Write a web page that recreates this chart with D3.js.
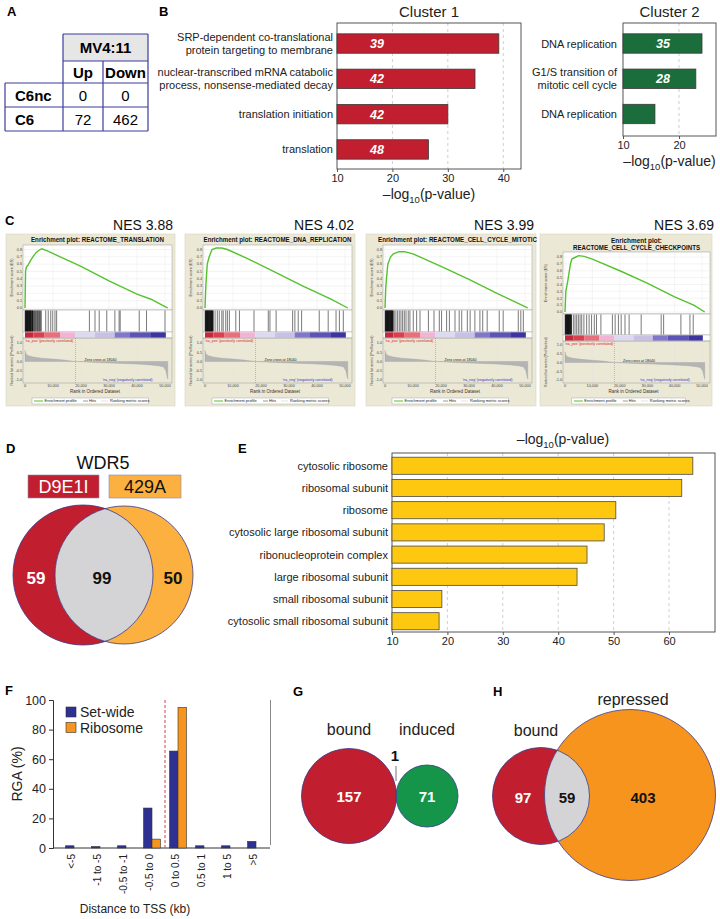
<!DOCTYPE html>
<html><head><meta charset="utf-8">
<script src="https://cdn.jsdelivr.net/npm/d3@7"></script>
<style>body{margin:0;background:#fff}text{font-family:"Liberation Sans",Arial,Helvetica,sans-serif}</style>
</head><body><svg id="c" width="720" height="919"></svg>
<script>
// ---------- DATA ----------
const tableHeader = "MV4:11";
const tableCols = ["Up", "Down"];
const tableRows = ["C6nc", "C6"];
const tableValues = [[0, 0], [72, 462]];

const cluster1Terms = [["SRP-dependent co-translational", "protein targeting to membrane"], ["nuclear-transcribed mRNA catabolic", "process, nonsense-mediated decay"], ["translation initiation"], ["translation"]];
const cluster1Values = [39.2, 34.9, 30.0, 26.5];
const cluster1Counts = [39, 42, 42, 48];
const cluster1Ticks = [10, 20, 30, 40];
const cluster2Terms = [["DNA replication"], ["G1/S transition of", "mitotic cell cycle"], ["DNA replication"]];
const cluster2Values = [24.1, 23.0, 15.7];
const cluster2Counts = [35, 28, 14];
const cluster2Ticks = [10, 20];

const gseaTitles = [["Enrichment plot: REACTOME_TRANSLATION"], ["Enrichment plot: REACTOME_DNA_REPLICATION"], ["Enrichment plot: REACTOME_CELL_CYCLE_MITOTIC"], ["Enrichment plot:", "REACTOME_CELL_CYCLE_CHECKPOINTS"]];
const gseaNES = ["NES 3.88", "NES 4.02", "NES 3.99", "NES 3.69"];
// running enrichment score: [rank (thousands), ES]
const esTranslation = [[0,0],[0.2,0.5],[0.5,0.56],[1,0.58],[2,0.65],[3,0.71],[4,0.76],[5,0.79],[6,0.81],[8,0.78],[12,0.71],[20,0.57],[30,0.37],[40,0.19],[45,0.12],[48,0.06],[50,0.02],[51,0]];
const esDnaReplication = [[0,0],[0.3,0.3],[0.8,0.6],[1.5,0.7],[2.5,0.8],[4,0.82],[6,0.82],[8,0.8],[15,0.68],[25,0.49],[35,0.3],[45,0.12],[51,0]];
const esCellCycleMitotic = [[0,0],[0.3,0.3],[1,0.6],[2,0.7],[3,0.74],[5,0.77],[7,0.77],[10,0.74],[20,0.57],[30,0.39],[40,0.2],[50,0.02],[51,0]];
const esCheckpoints = [[0,0],[0.3,0.3],[1,0.45],[2,0.7],[2.5,0.77],[4,0.8],[5,0.82],[7,0.81],[10,0.77],[20,0.6],[30,0.42],[40,0.22],[47,0.1],[51,0]];
// hit positions (rank, thousands)
const hitsTranslation = [0.1,0.3,0.5,0.7,0.9,1.1,1.3,1.6,1.8,2.0,2.2,2.5,2.7,3.0,3.2,3.4,3.7,3.9,4.2,4.4,4.6,4.9,5.1,5.3,5.6,5.8,7.4,8.3,9.2,9.9,10.7,11.3,23,25,26.5,29.2,32.1,33.6,34,40.8,43.4,50];
const hitsDnaReplication = [0.1,0.3,0.5,0.7,0.9,1.1,1.3,1.5,1.7,1.9,2.1,2.3,2.5,2.7,3.0,3.6,4.4,5.1,6.0,6.5,7.4,8.0,8.7,11,12.3,17.5,22.6,23.2,25.4,31.3,32.1,33.3,34.5,40.8,44,46.8,48,49.4];
const hitsCellCycleMitotic = [0.1,0.3,0.5,0.7,0.9,1.1,1.3,1.5,1.7,1.9,2.1,2.3,2.5,2.7,3.0,3.3,3.9,4.5,5.1,5.7,6.3,6.9,7.5,8.3,8.9,10.1,11.3,12.5,15.5,17.5,19.4,20.2,22,23,25,26.5,27.4,29.4,30.4,32.1,33.9,34.9,36.5,40.8,42.2,47.6,48.5,49.4];
const hitsCheckpoints = [0.1,0.3,0.5,0.7,0.9,1.1,1.3,1.5,1.7,1.9,2.1,2.3,3.04,3.65,4.26,4.87,5.5,6.1,6.9,7.9,8.8,9.7,10.7,11.5,13.1,17.3,18.3,19.5,20.5,21.9,23.4,27.8,35.1,36,42.3,45.6,46.8];
// ranked list metric: [rank (thousands), value]
const metricCurve = [[0,0.6],[0.2,0.45],[1,0.32],[3,0.24],[6,0.18],[10,0.13],[14,0.08],[18,0.0],[25,-0.05],[32,-0.09],[40,-0.14],[45,-0.19],[48,-0.24],[49.5,-0.3],[50.3,-0.5],[50.8,-0.85],[51,-0.95]];
const colorBarBreaks = [0, 3, 7, 12.5, 17.9, 25, 32, 37.5, 45, 50.3];
const colorBarColors = ["#c4283c", "#d8404f", "#e8707c", "#f2b4d4", "#dcd9f0", "#c9c0e6", "#7f78c8", "#5c54b4", "#3c34a0"];
const zeroCross = 18040;

const vennD = {left: "D9E1I", right: "429A", title: "WDR5", only1: 59, both: 99, only2: 50};

const eTerms = ["cytosolic ribosome", "ribosomal subunit", "ribosome", "cytosolic large ribosomal subunit", "ribonucleoprotein complex", "large ribosomal subunit", "small ribosomal subunit", "cytosolic small ribosomal subunit"];
const eValues = [64.3, 62.3, 50.4, 48.3, 45.2, 43.4, 19.0, 18.5];
const eTicks = [10, 20, 30, 40, 50, 60];

const fCategories = ["<-5", "-1 to -5", "-0.5 to -1", "-0.5 to 0", "0 to 0.5", "0.5 to 1", "1 to 5", ">5"];
const fSeries = ["Set-wide", "Ribosome"];
const fSetWide = [1.5, 1.0, 1.5, 27, 65.5, 1.5, 1.5, 4.5];
const fRibosome = [0, 0, 0, 6, 95, 0, 0, 0];
const fTicks = [0, 20, 40, 60, 80, 100];

const vennG = {a: "bound", b: "induced", onlyA: 157, both: 1, onlyB: 71};
const vennH = {a: "bound", b: "repressed", onlyA: 97, both: 59, onlyB: 403};

// ---------- DRAW ----------
const svg = d3.select("#c");
const RED = "#c11f2f", GREEN2 = "#1b6e3b", GOLD = "#fdc80f", BLUE = "#2e3192", ORANGE = "#f7941d", LORANGE = "#fbb040", LENS = "#d4d4d6", OUT = "#3a3a8c";

function txt(x, y, t, size, opts = {}) {
  const e = svg.append("text").attr("x", x).attr("y", y).attr("font-size", size).text(t);
  if (opts.anchor) e.attr("text-anchor", opts.anchor);
  if (opts.weight) e.attr("font-weight", opts.weight);
  if (opts.fill) e.attr("fill", opts.fill);
  if (opts.style) e.attr("font-style", opts.style);
  return e;
}
// panel letters
[["A",7,16],["B",159,16],["C",5,225],["D",6,453],["E",238,453],["F",5,695],["G",293,696],["H",493,696]].forEach(d => txt(d[1], d[2], d[0], 13, {weight: "bold"}));

// ---- A: table ----
(function () {
  const colX = [5, 63, 103, 148];
  const rowY = [34, 61, 83, 107, 131];
  const g = svg.append("g");
  g.append("rect").attr("x", colX[1]).attr("y", rowY[0]).attr("width", colX[3] - colX[1]).attr("height", rowY[1] - rowY[0]).attr("fill", "#e6e6e6");
  const line = (x1, y1, x2, y2) => g.append("line").attr("x1", x1).attr("y1", y1).attr("x2", x2).attr("y2", y2).attr("stroke", "#3d3d9c").attr("stroke-width", 1.2);
  line(colX[1], rowY[0], colX[3], rowY[0]);
  line(colX[1], rowY[1], colX[3], rowY[1]);
  line(colX[0], rowY[2], colX[3], rowY[2]);
  line(colX[0], rowY[3], colX[3], rowY[3]);
  line(colX[0], rowY[4], colX[3], rowY[4]);
  line(colX[0], rowY[2], colX[0], rowY[4]);
  line(colX[1], rowY[0], colX[1], rowY[4]);
  line(colX[2], rowY[1], colX[2], rowY[4]);
  line(colX[3], rowY[0], colX[3], rowY[4]);
  txt((colX[1] + colX[3]) / 2, (rowY[0] + rowY[1]) / 2 + 5.5, tableHeader, 15, {anchor: "middle", weight: "bold"});
  tableCols.forEach((c, i) => txt((colX[i + 1] + colX[i + 2]) / 2, (rowY[1] + rowY[2]) / 2 + 5.5, c, 15, {anchor: "middle", weight: "bold"}));
  tableRows.forEach((r, j) => {
    const cy = (rowY[j + 2] + rowY[j + 3]) / 2 + 5.5;
    txt(15, cy, r, 15, {weight: "bold"});
    tableValues[j].forEach((v, i) => txt((colX[i + 1] + colX[i + 2]) / 2, cy, v, 15, {anchor: "middle"}));
  });
})();

// ---- B: bar charts ----
function clusterChart(title, terms, values, counts, ticks, x0, x1, xmax, yRange, color, labelX) {
  const g = svg.append("g");
  const x = d3.scaleLinear().domain([10, xmax]).range([x0, x1]);
  const y = d3.scaleBand().domain(d3.range(terms.length)).range(yRange).paddingInner(0.45).paddingOuter(0.25);
  const top = 23, bottom = yRange[1] + (terms.length === 4 ? 1 : 3.5);
  ticks.slice(1).forEach(t => g.append("line").attr("x1", x(t)).attr("x2", x(t)).attr("y1", top).attr("y2", bottom).attr("stroke", "#cfcfcf").attr("stroke-dasharray", "3,3"));
  g.append("rect").attr("x", x0).attr("y", top).attr("width", x1 - x0).attr("height", bottom - top).attr("fill", "none").attr("stroke", "#555").attr("stroke-width", 1);
  g.selectAll(".bar").data(values).enter().append("rect")
    .attr("x", x(10)).attr("y", (d, i) => y(i)).attr("width", d => x(d) - x(10)).attr("height", y.bandwidth())
    .attr("fill", color).attr("stroke", "#3a3a3a").attr("stroke-width", 0.8);
  counts.forEach((c, i) => txt(x(10) + 40, y(i) + y.bandwidth() / 2 + 4.5, c, 12.5, {anchor: "middle", weight: "bold", style: "italic", fill: "#fff"}));
  terms.forEach((lines, i) => {
    const cy = y(i) + y.bandwidth() / 2;
    lines.forEach((l, k) => txt(labelX, cy + (k - (lines.length - 1) / 2) * 13 + 4, l, 11, {anchor: "end", fill: "#222"}));
  });
  const ax = g.append("g").attr("transform", `translate(0,${bottom})`).call(d3.axisBottom(x).tickValues(ticks).tickSize(3).tickPadding(2));
  ax.select(".domain").remove();
  ax.selectAll("line").attr("stroke", "#555");
  ax.selectAll("text").attr("font-size", 11).attr("fill", "#222").attr("font-family", null);
  const cx = (x0 + x1) / 2;
  txt(cx, 17, title, 15, {anchor: "middle", fill: "#222"});
  const t = txt(cx, bottom + 30, "", 14, {anchor: "middle", fill: "#222"});
  t.append("tspan").text("\u2013log");
  t.append("tspan").text("10").attr("font-size", 9.5).attr("dy", 4);
  t.append("tspan").text("(p-value)").attr("dy", -4);
}
clusterChart("Cluster 1", cluster1Terms, cluster1Values, cluster1Counts, cluster1Ticks, 337, 521, 43.2, [25, 168], RED, 333);
clusterChart("Cluster 2", cluster2Terms, cluster2Values, cluster2Counts, cluster2Ticks, 623, 716, 26.6, [25, 132.5], GREEN2, 617);

// ---- C: GSEA plots ----
const gseaCfg = [
  {fx: 6, fw: 169, x0: 25, x1: 165, pl: 23, pr: 172, tY: [242], tW: [133], esTop: 245, esBot: 310, es0: 308, es08: 249.5, hTop: 310, hBot: 332, cTop: 332, cBot: 338, mTop: 338, mBot: 383, m1: 343, mn1: 380, nesX: 173},
  {fx: 185, fw: 170, x0: 205, x1: 345, pl: 203, pr: 352, tY: [242], tW: [148], esTop: 245, esBot: 310, es0: 308, es08: 249.5, hTop: 310, hBot: 332, cTop: 332, cBot: 338, mTop: 338, mBot: 383, m1: 343, mn1: 380, nesX: 354},
  {fx: 366, fw: 170, x0: 385, x1: 525, pl: 383, pr: 532, tY: [242], tW: [159], esTop: 245, esBot: 310, es0: 308, es08: 249.5, hTop: 310, hBot: 332, cTop: 332, cBot: 338, mTop: 338, mBot: 383, m1: 343, mn1: 380, nesX: 534},
  {fx: 540, fw: 172, x0: 565, x1: 702, pl: 563, pr: 710, tY: [242.5, 250], tW: [51, 127], esTop: 252, esBot: 314, es0: 312, es08: 257, hTop: 314, hBot: 335, cTop: 335, cBot: 341, mTop: 341, mBot: 383, m1: 345, mn1: 380, nesX: 714}
];
const esData = [esTranslation, esDnaReplication, esCellCycleMitotic, esCheckpoints];
const hitData = [hitsTranslation, hitsDnaReplication, hitsCellCycleMitotic, hitsCheckpoints];
gseaCfg.forEach((c, p) => {
  const g = svg.append("g");
  g.append("rect").attr("x", c.fx).attr("y", 234).attr("width", c.fw).attr("height", 172).attr("fill", "#ebe8d6").attr("stroke", "#d8d5c2").attr("stroke-width", 0.6);
  txt(c.nesX, 230, gseaNES[p], 14, {anchor: "end", fill: "#111"});
  const x = d3.scaleLinear().domain([0, 50000]).range([c.x0, c.x1]);
  const cxm = (c.pl + c.pr) / 2;
  gseaTitles[p].forEach((t, k) => txt(cxm, c.tY[k], t, 6.5, {anchor: "middle", weight: "bold", fill: "#111"}).attr("textLength", c.tW[k]).attr("lengthAdjust", "spacingAndGlyphs"));
  // ES panel
  const ye = d3.scaleLinear().domain([0, 0.8]).range([c.es0, c.es08]);
  g.append("rect").attr("x", c.pl).attr("y", c.esTop).attr("width", c.pr - c.pl).attr("height", c.esBot - c.esTop).attr("fill", "#fff").attr("stroke", "#999").attr("stroke-width", 0.5);
  d3.range(0, 0.81, 0.1).forEach(v => {
    g.append("line").attr("x1", c.pl).attr("x2", c.pr).attr("y1", ye(v)).attr("y2", ye(v)).attr("stroke", "#e4e4e4").attr("stroke-width", 0.4);
    txt(c.pl - 1, ye(v) + 1.3, v.toFixed(1), 3.8, {anchor: "end", fill: "#444"});
  });
  [0, 10000, 20000, 30000, 40000, 50000].forEach(v => {
    g.append("line").attr("x1", x(v)).attr("x2", x(v)).attr("y1", c.esTop).attr("y2", c.esBot).attr("stroke", "#e4e4e4").attr("stroke-width", 0.4);
    g.append("line").attr("x1", x(v)).attr("x2", x(v)).attr("y1", c.mTop).attr("y2", c.mBot).attr("stroke", "#e4e4e4").attr("stroke-width", 0.4);
    txt(x(v), 387, v === 0 ? "0" : d3.format(",")(v), 3.8, {anchor: "middle", fill: "#444"});
  });
  txt(c.fx + 7, (c.esTop + c.esBot) / 2, "Enrichment score (ES)", 3.8, {anchor: "middle", fill: "#444"}).attr("transform", `rotate(-90,${c.fx + 7},${(c.esTop + c.esBot) / 2})`);
  g.append("path").datum(esData[p]).attr("fill", "none").attr("stroke", "#55c22c").attr("stroke-width", 1.4)
    .attr("d", d3.line().x(d => x(d[0] * 1000)).y(d => ye(d[1])));
  // hits
  g.append("rect").attr("x", c.pl).attr("y", c.hTop).attr("width", c.pr - c.pl).attr("height", c.hBot - c.hTop).attr("fill", "#fff").attr("stroke", "#999").attr("stroke-width", 0.5);
  g.selectAll(".hit").data(hitData[p]).enter().append("line")
    .attr("x1", d => x(d * 1000)).attr("x2", d => x(d * 1000)).attr("y1", c.hTop + 0.5).attr("y2", c.hBot - 0.5)
    .attr("stroke", "#111").attr("stroke-opacity", d => d < 3 ? 0.95 : 0.7).attr("stroke-width", d => d < 3 ? 1.1 : 0.8);
  // color bar
  g.append("rect").attr("x", c.pl).attr("y", c.cTop).attr("width", c.pr - c.pl).attr("height", c.cBot - c.cTop).attr("fill", "#fff").attr("stroke", "#999").attr("stroke-width", 0.4);
  colorBarColors.forEach((col, i) => g.append("rect").attr("x", x(colorBarBreaks[i] * 1000)).attr("y", c.cTop + 0.3).attr("width", x(colorBarBreaks[i + 1] * 1000) - x(colorBarBreaks[i] * 1000)).attr("height", c.cBot - c.cTop - 0.6).attr("fill", col));
  // ranked metric
  const ym = d3.scaleLinear().domain([-1, 1]).range([c.mn1, c.m1]);
  g.append("rect").attr("x", c.pl).attr("y", c.mTop).attr("width", c.pr - c.pl).attr("height", c.mBot - c.mTop).attr("fill", "none").attr("stroke", "#999").attr("stroke-width", 0.5);
  g.append("path").datum(metricCurve).attr("fill", "#b4b4b4").attr("stroke", "#9a9a9a").attr("stroke-width", 0.3)
    .attr("d", d3.area().x(d => x(d[0] * 1000)).y0(ym(0)).y1(d => ym(d[1])));
  [1, 0.5, 0, -0.5, -1].forEach(v => txt(c.pl - 1, ym(v) + 1.3, v.toFixed(1), 3.8, {anchor: "end", fill: "#444"}));
  g.append("line").attr("x1", x(zeroCross)).attr("x2", x(zeroCross)).attr("y1", c.cBot).attr("y2", c.mBot).attr("stroke", "#888").attr("stroke-width", 0.5).attr("stroke-dasharray", "1,1");
  txt(x(27000), ym(0) - 0.5, "Zero cross at " + zeroCross, 3.6, {anchor: "middle", fill: "#222"});
  txt(x(0), c.cBot + 3.6, "'na_pos' (positively correlated)", 3.6, {fill: "#d22"});
  txt(x(45500), c.mBot - 2.5, "'na_neg' (negatively correlated)", 3.6, {anchor: "end", fill: "#33c"});
  txt(c.fx + 7, (c.mTop + c.mBot) / 2, "Ranked list metric (PreRanked)", 3.6, {anchor: "middle", fill: "#444"}).attr("transform", `rotate(-90,${c.fx + 7},${(c.mTop + c.mBot) / 2})`);
  txt(x(25000), 393, "Rank in Ordered Dataset", 4.5, {anchor: "middle", fill: "#333"});
  // legend
  const lx = x(2500), ly = 398;
  g.append("rect").attr("x", lx).attr("y", ly).attr("width", x(44000) - x(2500)).attr("height", 6).attr("fill", "#fff").attr("stroke", "#999").attr("stroke-width", 0.4);
  g.append("line").attr("x1", lx + 2).attr("x2", lx + 11).attr("y1", ly + 3).attr("y2", ly + 3).attr("stroke", "#55c22c").attr("stroke-width", 1);
  txt(lx + 12.5, ly + 4.4, "Enrichment profile", 4, {fill: "#222"});
  g.append("line").attr("x1", lx + 51).attr("x2", lx + 56).attr("y1", ly + 3).attr("y2", ly + 3).attr("stroke", "#555").attr("stroke-width", 0.6);
  txt(lx + 57, ly + 4.4, "Hits", 4, {fill: "#222"});
  g.append("line").attr("x1", lx + 69).attr("x2", lx + 76).attr("y1", ly + 3).attr("y2", ly + 3).attr("stroke", "#ccc").attr("stroke-width", 0.6);
  txt(lx + 78, ly + 4.4, "Ranking metric scores", 4, {fill: "#222"});
});

// ---- D: Venn ----
(function () {
  txt(103, 469, vennD.title, 18, {anchor: "middle", fill: "#111"});
  svg.append("rect").attr("x", 28).attr("y", 475).attr("width", 71).attr("height", 23).attr("fill", RED).attr("stroke", "#8a8ab0").attr("stroke-width", 0.6);
  txt(63.5, 493, vennD.left, 18, {anchor: "middle", fill: "#fff"});
  svg.append("rect").attr("x", 109).attr("y", 475).attr("width", 72).attr("height", 23).attr("fill", LORANGE).attr("stroke", "#8a8ab0").attr("stroke-width", 0.6);
  txt(145, 493, vennD.right, 18, {anchor: "middle", fill: "#111"});
  const L = {x: 83, y: 575, r: 70}, R = {x: 124, y: 575, r: 69};
  svg.append("defs").append("clipPath").attr("id", "clipDR").append("circle").attr("cx", R.x).attr("cy", R.y).attr("r", R.r);
  svg.append("circle").attr("cx", L.x).attr("cy", L.y).attr("r", L.r).attr("fill", RED);
  svg.append("circle").attr("cx", R.x).attr("cy", R.y).attr("r", R.r).attr("fill", LORANGE);
  svg.append("circle").attr("cx", L.x).attr("cy", L.y).attr("r", L.r).attr("fill", LENS).attr("clip-path", "url(#clipDR)");
  [L, R].forEach(c => svg.append("circle").attr("cx", c.x).attr("cy", c.y).attr("r", c.r).attr("fill", "none").attr("stroke", OUT).attr("stroke-width", 0.8));
  txt(36, 584, vennD.only1, 17, {anchor: "middle", weight: "bold", fill: "#fff"});
  txt(102, 584, vennD.both, 17, {anchor: "middle", weight: "bold", fill: "#111"});
  txt(173, 584, vennD.only2, 17, {anchor: "middle", weight: "bold", fill: "#111"});
})();

// ---- E: bar chart ----
(function () {
  const g = svg.append("g");
  const x = d3.scaleLinear().domain([10, 68.3]).range([392, 715]);
  const y = d3.scaleBand().domain(eTerms).range([455, 632]).paddingInner(0.23).paddingOuter(0.1);
  eTicks.slice(1).forEach(t => g.append("line").attr("x1", x(t)).attr("x2", x(t)).attr("y1", 453).attr("y2", 632).attr("stroke", "#d0d0d0").attr("stroke-dasharray", "3,3"));
  g.append("rect").attr("x", 392).attr("y", 453).attr("width", 323).attr("height", 179).attr("fill", "none").attr("stroke", "#555");
  g.selectAll(".bar").data(eValues).enter().append("rect")
    .attr("x", x(10)).attr("y", (d, i) => y(eTerms[i])).attr("width", d => x(d) - x(10)).attr("height", y.bandwidth())
    .attr("fill", GOLD).attr("stroke", "#4a4a4a").attr("stroke-width", 0.8);
  eTerms.forEach(t => txt(388, y(t) + y.bandwidth() / 2 + 4, t, 11, {anchor: "end", fill: "#222"}));
  const ax = g.append("g").attr("transform", "translate(0,632)").call(d3.axisBottom(x).tickValues(eTicks).tickSize(3).tickPadding(2));
  ax.select(".domain").remove();
  ax.selectAll("line").attr("stroke", "#555");
  ax.selectAll("text").attr("font-size", 11).attr("fill", "#222").attr("font-family", null);
  const t = txt(563, 444, "", 14, {anchor: "middle", fill: "#222"});
  t.append("tspan").text("\u2013log");
  t.append("tspan").text("10").attr("font-size", 9.5).attr("dy", 4);
  t.append("tspan").text("(p-value)").attr("dy", -4);
})();

// ---- F: grouped bars ----
(function () {
  const g = svg.append("g");
  const x = d3.scaleBand().domain(fCategories).range([61, 269]).paddingInner(0.35).paddingOuter(0.175);
  const xs = d3.scaleBand().domain(fSeries).range([0, x.bandwidth()]);
  const y = d3.scaleLinear().domain([0, 100]).range([848, 700]);
  const cols = {"Set-wide": BLUE, "Ribosome": ORANGE};
  const vals = {"Set-wide": fSetWide, "Ribosome": fRibosome};
  const ay = g.append("g").attr("transform", "translate(53,0)").call(d3.axisLeft(y).tickValues(fTicks).tickSize(4).tickPadding(3));
  ay.select(".domain").attr("stroke", "#333");
  ay.selectAll("line").attr("stroke", "#333");
  ay.selectAll("text").attr("font-size", 12.5).attr("fill", "#222").attr("font-family", null);
  g.append("line").attr("x1", 53).attr("x2", 270).attr("y1", 848).attr("y2", 848).attr("stroke", "#333");
  g.append("line").attr("x1", 270.5).attr("x2", 270.5).attr("y1", 700).attr("y2", 845).attr("stroke", "#888");
  const bx = x("0 to 0.5") - x.step() * x.paddingInner() / 2;
  g.append("line").attr("x1", bx).attr("x2", bx).attr("y1", 700).attr("y2", 848).attr("stroke", "#e0606a").attr("stroke-width", 1.2).attr("stroke-dasharray", "3,2");
  fSeries.forEach(s => {
    g.selectAll(".b" + s).data(vals[s]).enter().append("rect")
      .attr("x", (d, i) => x(fCategories[i]) + xs(s)).attr("y", d => y(d)).attr("width", xs.bandwidth()).attr("height", d => 848 - y(d))
      .attr("fill", cols[s]).attr("stroke", d => d > 0 ? "#333" : "none").attr("stroke-width", 0.6);
  });
  fCategories.forEach(cat => {
    const cx = x(cat) + x.bandwidth() / 2 - 3;
    txt(cx, 854, cat, 10, {anchor: "end", fill: "#222"}).attr("transform", `rotate(-90,${cx},854)`).attr("dy", 3.5);
  });
  txt(22, 774, "RGA (%)", 14, {anchor: "middle", fill: "#222"}).attr("transform", "rotate(-90,22,774)");
  txt(135, 913, "Distance to TSS (kb)", 12, {anchor: "middle", fill: "#222"});
  fSeries.forEach((s, i) => {
    g.append("rect").attr("x", 66).attr("y", 707 + i * 15.5).attr("width", 10).attr("height", 10).attr("fill", cols[s]).attr("stroke", "#333").attr("stroke-width", 0.6);
    txt(80, 717 + i * 15.5, s, 14, {fill: "#222"});
  });
})();

// ---- G & H: Venns ----
function venn2(A, B, labels, vals, colA, colB, labPos, numPos, id) {
  svg.append("defs").append("clipPath").attr("id", id).append("circle").attr("cx", B.x).attr("cy", B.y).attr("r", B.r);
  svg.append("circle").attr("cx", A.x).attr("cy", A.y).attr("r", A.r).attr("fill", colA);
  svg.append("circle").attr("cx", B.x).attr("cy", B.y).attr("r", B.r).attr("fill", colB);
  svg.append("circle").attr("cx", A.x).attr("cy", A.y).attr("r", A.r).attr("fill", LENS).attr("clip-path", `url(#${id})`);
  [A, B].forEach(c => svg.append("circle").attr("cx", c.x).attr("cy", c.y).attr("r", c.r).attr("fill", "none").attr("stroke", OUT).attr("stroke-width", 0.8));
  txt(labPos[0][0], labPos[0][1], labels[0], 16, {anchor: "middle", fill: "#222"});
  txt(labPos[1][0], labPos[1][1], labels[1], 16, {anchor: "middle", fill: "#222"});
  txt(numPos[0][0], numPos[0][1], vals[0], 15, {anchor: "middle", weight: "bold", fill: "#fff"});
  txt(numPos[1][0], numPos[1][1], vals[1], 15, {anchor: "middle", weight: "bold", fill: "#111"});
  txt(numPos[2][0], numPos[2][1], vals[2], 15, {anchor: "middle", weight: "bold", fill: numPos[2][2]});
}
venn2({x: 349, y: 796, r: 47.5}, {x: 427, y: 796, r: 31}, [vennG.a, vennG.b], [vennG.onlyA, vennG.both, vennG.onlyB], RED, "#14954a",
  [[349, 735], [427, 735]], [[349, 802], [395, 761], [427, 802, "#fff"]], "clipG");
svg.append("line").attr("x1", 396).attr("x2", 396).attr("y1", 766).attr("y2", 781).attr("stroke", "#777").attr("stroke-width", 1);
venn2({x: 541, y: 796, r: 48.5}, {x: 630, y: 795, r: 85.5}, [vennH.a, vennH.b], [vennH.onlyA, vennH.both, vennH.onlyB], RED, ORANGE,
  [[536, 736], [633, 705]], [[523, 803], [567, 803], [643, 803, "#111"]], "clipH");
</script></body></html>
